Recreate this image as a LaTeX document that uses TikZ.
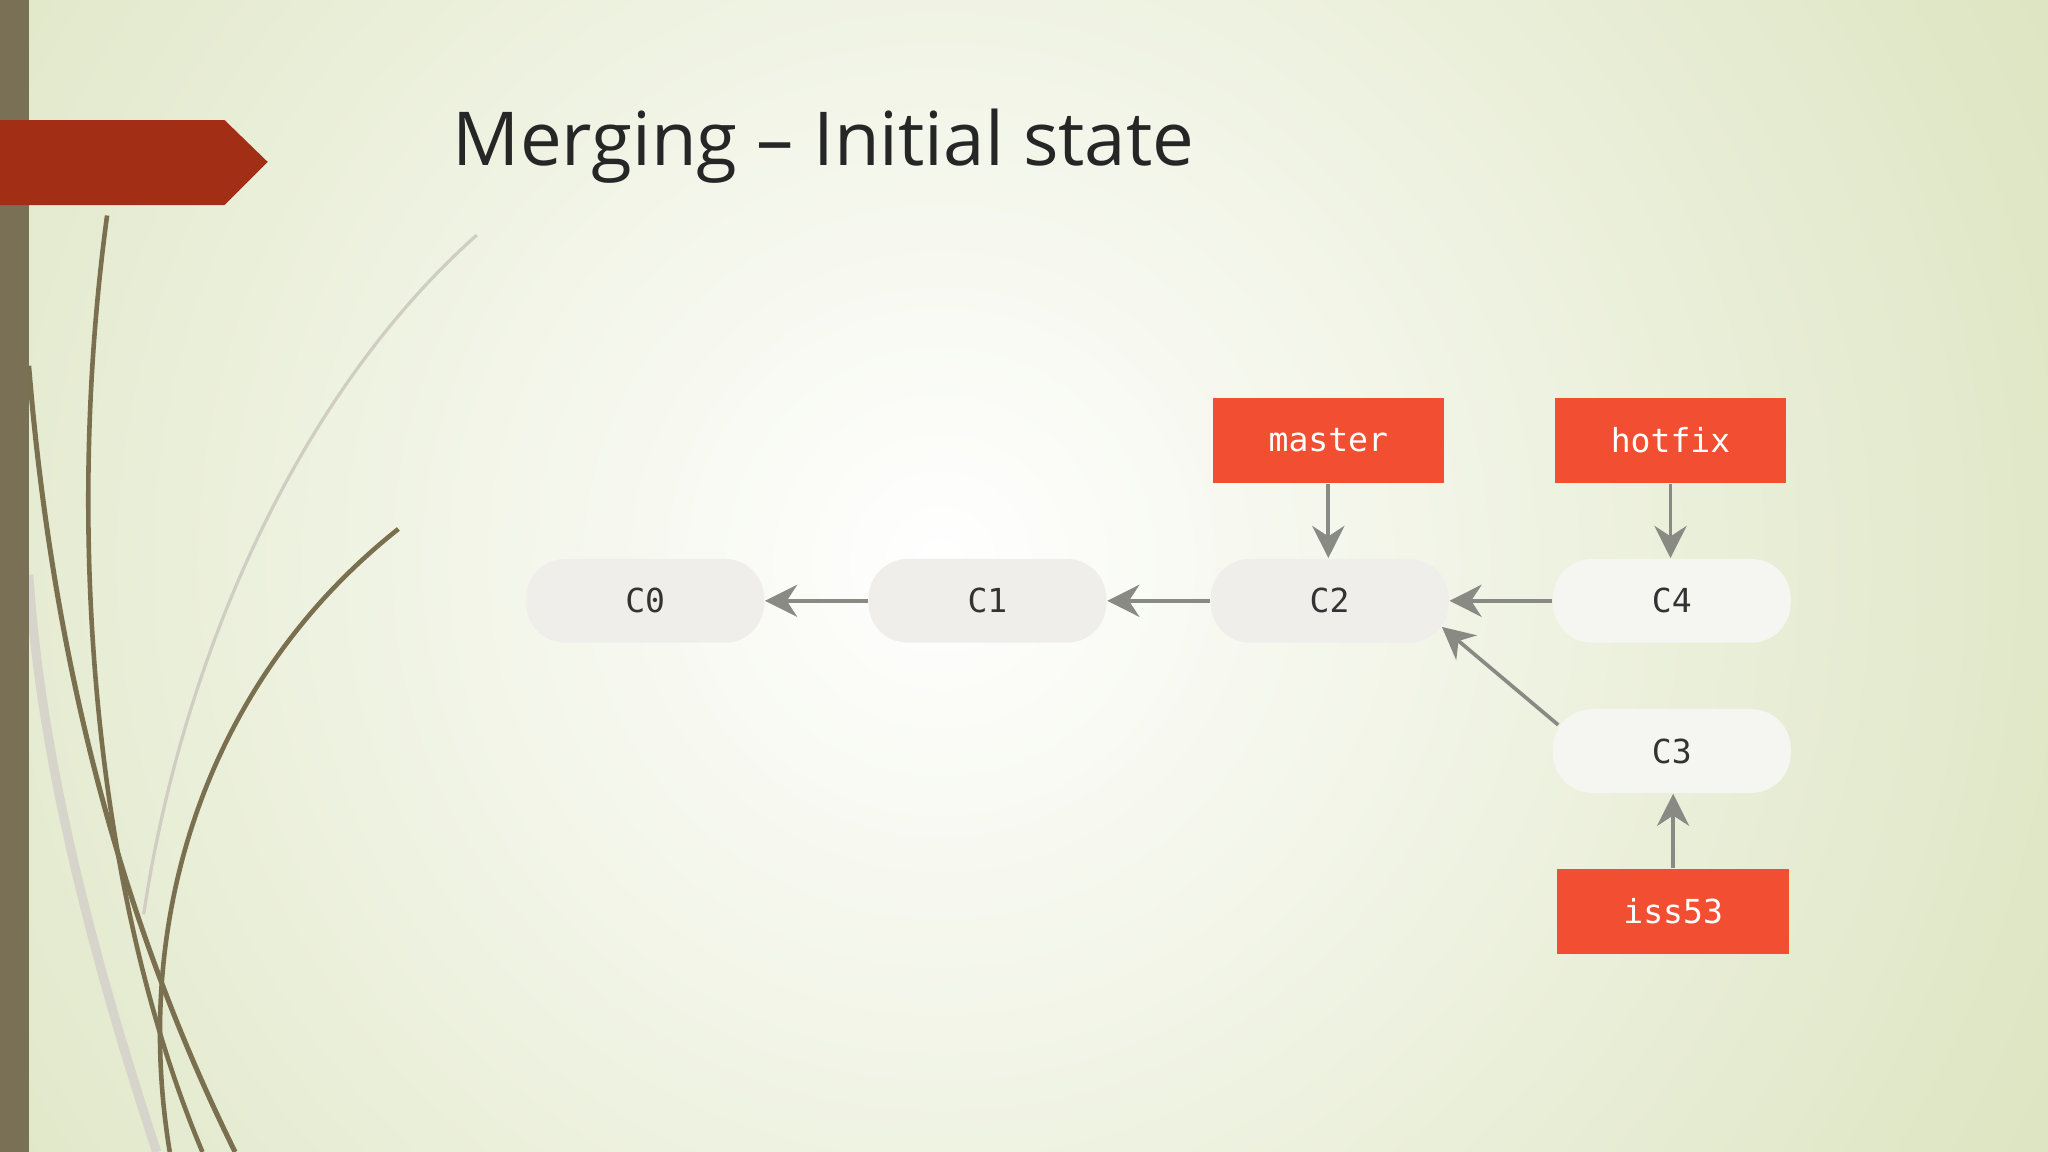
\documentclass[tikz,border=0pt]{standalone}
\usepackage{fontspec}
\setmainfont{Open Sans}
\newfontfamily\codefont{DejaVu Sans Mono}
\usetikzlibrary{arrows.meta}
\definecolor{bgout}{HTML}{DDE5C2}
\definecolor{bar}{HTML}{7A7055}
\definecolor{banner}{HTML}{A32E16}
\definecolor{commit}{HTML}{EFEEEA}
\definecolor{ref}{HTML}{F14E32}
\definecolor{arr}{HTML}{8A8A85}
\definecolor{grass}{HTML}{7A7050}
\tikzset{
  commitbox/.style={fill=commit, rounded corners=0.3cm, minimum width=1.82cm, minimum height=0.64cm, inner sep=0pt, font=\codefont\fontsize{7.2pt}{9pt}\selectfont, text=black!80},
  refbox/.style={fill=ref, minimum width=1.77cm, minimum height=0.65cm, inner sep=0pt, font=\codefont\fontsize{7.2pt}{9pt}\selectfont, text=white},
  conn/.style={draw=arr, line width=0.8pt, -{Stealth[length=7pt,width=7pt]}},
}
\begin{document}
\begin{tikzpicture}[x=0.01cm,y=-0.01cm]
\useasboundingbox (0,0) rectangle (1568,882);
\fill[bgout] (0,0) rectangle (1568,882);
\begin{scope}
\clip (0,0) rectangle (1568,882);
\shade[inner color=white, outer color=bgout] (720,430) circle (950);
\end{scope}
% grass
\begin{scope}[draw=grass]
\draw[line width=1.1pt] (180,882) .. controls (90,700) and (40,500) .. (22,280);
\draw[line width=1pt] (155,882) .. controls (70,680) and (50,400) .. (82,165);
\draw[line width=1pt] (130,882) .. controls (100,700) and (160,520) .. (305,405);
\draw[line width=0.7pt, draw=grass!35] (110,700) .. controls (140,500) and (230,300) .. (365,180);
\draw[line width=2pt, draw=grass!30] (120,882) .. controls (60,700) and (30,560) .. (22,440);
\end{scope}
\fill[bar] (0,0) rectangle (22,882);
\fill[banner] (0,92) -- (172,92) -- (205,124) -- (172,157) -- (0,157) -- cycle;
\node[anchor=base west, inner sep=0pt, text=black!85, font=\fontsize{16.2pt}{20pt}\selectfont] (title) at (346,127) {Merging – Initial state};
% commits
\node[commitbox] (c0) at (494,460) {C0};
\node[commitbox] (c1) at (756,460) {C1};
\node[commitbox] (c2) at (1018,460) {C2};
\node[commitbox, fill=commit!60] (c4) at (1280,460) {C4};
\node[commitbox, fill=commit!60] (c3) at (1280,575) {C3};
\node[refbox] (master) at (1017,337) {master};
\node[refbox] (hotfix) at (1279,337) {hotfix};
\node[refbox] (iss53) at (1281,698) {iss53};
\coordinate (c3out) at (1193,555);
\coordinate (c2in) at (1104,480);
\draw[conn] (c1.west) -- (c0.east);
\draw[conn] (c2.west) -- (c1.east);
\draw[conn] (c4.west) -- (c2.east);
\draw[conn] (c3out) -- (c2in);
\draw[conn] (master.south) -- (c2.north -| master.south);
\draw[conn] (hotfix.south) -- (c4.north -| hotfix.south);
\draw[conn] (iss53.north) -- (c3.south -| iss53.north);
\end{tikzpicture}
\end{document}
